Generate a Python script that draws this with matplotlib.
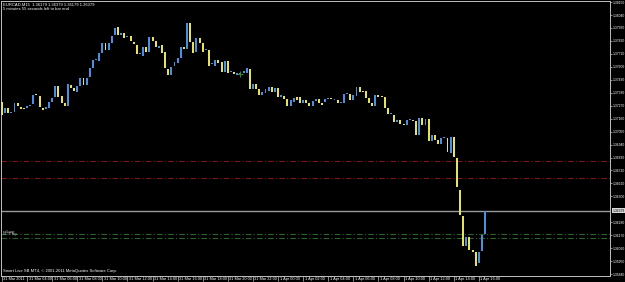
import numpy as np
import matplotlib.pyplot as plt
import matplotlib.transforms as mtransforms

plt.rcParams['font.family'] = ['Liberation Sans Narrow', 'Liberation Sans', 'DejaVu Sans']

# EURCAD M15, precios
opens = [1.37301, 1.37208, 1.37250, 1.37208, 1.37216, 1.37293, 1.37259, 1.37242, 1.37250, 1.37267,
         1.37284, 1.37369, 1.37352, 1.37250, 1.37242, 1.37250, 1.37301, 1.37343, 1.37437, 1.37352,
         1.37293, 1.37267, 1.37445, 1.37420, 1.37386, 1.37437, 1.37505, 1.37445, 1.37513, 1.37590,
         1.37658, 1.37649, 1.37717, 1.37802, 1.37742, 1.37802, 1.37870, 1.37938, 1.37870, 1.37887,
         1.37853, 1.37861, 1.37810, 1.37785, 1.37709, 1.37692, 1.37768, 1.37726, 1.37853, 1.37819,
         1.37759, 1.37785, 1.37726, 1.37581, 1.37530, 1.37607, 1.37632, 1.37675, 1.37768, 1.37751,
         1.37972, 1.37810, 1.37726, 1.37844, 1.37802, 1.37742, 1.37742, 1.37624, 1.37607, 1.37658,
         1.37641, 1.37556, 1.37649, 1.37556, 1.37556, 1.37530, 1.37539, 1.37547, 1.37547, 1.37581,
         1.37411, 1.37454, 1.37411, 1.37360, 1.37377, 1.37394, 1.37428, 1.37386, 1.37420, 1.37343,
         1.37352, 1.37326, 1.37267, 1.37301, 1.37343, 1.37343, 1.37293, 1.37318, 1.37293, 1.37267,
         1.37310, 1.37326, 1.37293, 1.37301, 1.37326, 1.37335, 1.37318, 1.37318, 1.37293, 1.37293,
         1.37369, 1.37369, 1.37318, 1.37352, 1.37428, 1.37394, 1.37394, 1.37335, 1.37293, 1.37267,
         1.37360, 1.37352, 1.37343, 1.37250, 1.37199, 1.37191, 1.37131, 1.37148, 1.37114, 1.37106,
         1.37148, 1.37148, 1.37140, 1.37021, 1.37165, 1.37106, 1.37157, 1.36970, 1.37021, 1.36978,
         1.36944, 1.36995, 1.36995, 1.36868, 1.37004, 1.36826, 1.36554, 1.36333, 1.36078, 1.36155,
         1.36044, 1.36028, 1.35934, 1.36036, 1.36179]
closes = [1.37191, 1.37250, 1.37208, 1.37216, 1.37293, 1.37267, 1.37242, 1.37238, 1.37267, 1.37267,
          1.37360, 1.37360, 1.37259, 1.37233, 1.37259, 1.37301, 1.37335, 1.37437, 1.37343, 1.37293,
          1.37267, 1.37454, 1.37420, 1.37394, 1.37437, 1.37505, 1.37445, 1.37505, 1.37590, 1.37658,
          1.37658, 1.37717, 1.37802, 1.37742, 1.37802, 1.37861, 1.37929, 1.37870, 1.37887, 1.37844,
          1.37861, 1.37819, 1.37793, 1.37709, 1.37709, 1.37768, 1.37726, 1.37853, 1.37819, 1.37768,
          1.37776, 1.37717, 1.37590, 1.37530, 1.37598, 1.37641, 1.37675, 1.37768, 1.37751, 1.37972,
          1.37810, 1.37717, 1.37844, 1.37802, 1.37726, 1.37742, 1.37607, 1.37624, 1.37658, 1.37632,
          1.37556, 1.37649, 1.37547, 1.37556, 1.37539, 1.37547, 1.37539, 1.37564, 1.37590, 1.37411,
          1.37454, 1.37411, 1.37360, 1.37386, 1.37411, 1.37428, 1.37386, 1.37420, 1.37343, 1.37360,
          1.37326, 1.37267, 1.37318, 1.37335, 1.37318, 1.37293, 1.37318, 1.37293, 1.37267, 1.37310,
          1.37326, 1.37293, 1.37276, 1.37326, 1.37326, 1.37326, 1.37318, 1.37293, 1.37301, 1.37369,
          1.37369, 1.37318, 1.37360, 1.37428, 1.37386, 1.37386, 1.37335, 1.37293, 1.37267, 1.37360,
          1.37343, 1.37343, 1.37250, 1.37199, 1.37199, 1.37131, 1.37148, 1.37114, 1.37106, 1.37148,
          1.37148, 1.37140, 1.37021, 1.37165, 1.37106, 1.37157, 1.36970, 1.37021, 1.36978, 1.36944,
          1.36995, 1.36995, 1.36877, 1.37004, 1.36834, 1.36579, 1.36342, 1.36078, 1.36155, 1.36044,
          1.36028, 1.35909, 1.36028, 1.36172, 1.36379]

time_labels = ['31 Mar 2011', '31 Mar 04:00', '31 Mar 06:00', '31 Mar 08:00', '31 Mar 10:00',
               '31 Mar 12:00', '31 Mar 14:00', '31 Mar 16:00', '31 Mar 18:00', '31 Mar 20:00',
               '31 Mar 22:00', '1 Apr 00:00', '1 Apr 02:00', '1 Apr 04:00', '1 Apr 06:00',
               '1 Apr 08:00', '1 Apr 10:00', '1 Apr 12:00', '1 Apr 14:00', '1 Apr 16:00']
price_ticks = [1.38150, 1.38040, 1.37930, 1.37820, 1.37710, 1.37600, 1.37490, 1.37380,
               1.37270, 1.37160, 1.37050, 1.36940, 1.36830, 1.36720, 1.36610, 1.36500,
               1.36280, 1.36170, 1.36060, 1.35950, 1.35840]
red_levels = [1.36800, 1.36660]
green_levels = [1.36179, 1.36150]
order_bar = 76
order_price = 1.37540

header = 'EURCAD,M15  1.36179 1.36379 1.36179 1.36379'
timer = '5 minutes 55 seconds left to bar end'
copyright_txt = 'Smart Live SB MT4, \u00a9 2001-2011 MetaQuotes Software Corp.'

o = np.array(opens)
c = np.array(closes)
x = np.arange(len(o))
bull = c >= o
colors = np.where(bull, '#4a90e0', '#e6e25a')
h = c - o
h = np.where(np.abs(h) < 0.00006, 0.00008, h)

fig = plt.figure(figsize=(6.25, 2.82), dpi=100, facecolor='black')
ax = fig.add_axes([1 / 625, 6.5 / 282, 609 / 625, 274.5 / 282])
ax.set_facecolor('black')

ax.bar(x, h, bottom=o, width=0.62, color=colors, linewidth=0, zorder=3)

for lv in red_levels:
    ax.axhline(lv, color='#7c1818', lw=0.8, dashes=(5, 2, 1, 2), zorder=2)
for lv in green_levels:
    ax.axhline(lv, color='#2a622a', lw=0.8, dashes=(5, 2, 1, 2), zorder=2)
ax.axhline(closes[-1], color='#9a9a9a', lw=1.0, zorder=2)
ax.plot(order_bar, order_price, marker='+', color='#2f8f2f', ms=4, mew=0.7, zorder=4)

ax.set_xlim(-0.3, 193.8)
ax.set_ylim(1.35828, 1.38159)

ax.set_xticks(np.arange(0, 8 * len(time_labels), 8))
ax.set_xticklabels(time_labels)
ax.tick_params(axis='x', colors='#c8c8c8', labelcolor='white', labelsize=2.8,
               length=3.5, width=0.5, direction='out', pad=-2.6)
offset = mtransforms.ScaledTranslation(1.5 / 100, 0, fig.dpi_scale_trans)
for lbl in ax.get_xticklabels():
    lbl.set_horizontalalignment('left')
    lbl.set_transform(lbl.get_transform() + offset)

ax.yaxis.tick_right()
ax.set_yticks(price_ticks)
ax.set_yticklabels([f'{v:.5f}' for v in price_ticks])
ax.tick_params(axis='y', colors='#c8c8c8', labelcolor='white', labelsize=2.4,
               length=1.2, width=0.5, pad=0.4)

ax.annotate(f'{closes[-1]:.5f}', xy=(1, closes[-1]), xycoords=ax.get_yaxis_transform(),
            xytext=(1.7, 0), textcoords='offset points', ha='left', va='center',
            fontsize=2.4, color='black',
            bbox=dict(boxstyle='square,pad=0.15', fc='#d8d8d8', ec='none'))

for side in ['left', 'bottom', 'right', 'top']:
    ax.spines[side].set_color('#c0c0c0')
    ax.spines[side].set_linewidth(0.7)

fig.text(3 / 625, 1 - 4.7 / 282, header, color='white', fontsize=3.0, va='center')
fig.text(3 / 625, 1 - 8.9 / 282, timer, color='white', fontsize=3.0, va='center')
fig.text(3 / 625, 1 - 271 / 282, copyright_txt, color='white', fontsize=3.0, va='center')
fig.text(3 / 625, 1 - 231.6 / 282, 'sell stop', color='#c8c8c8', fontsize=2.2, va='center')
fig.text(3 / 625, 1 - 234.4 / 282, '#1 TP buy', color='#c8c8c8', fontsize=2.2, va='center')

plt.savefig('out.png', dpi=100, facecolor='black')
